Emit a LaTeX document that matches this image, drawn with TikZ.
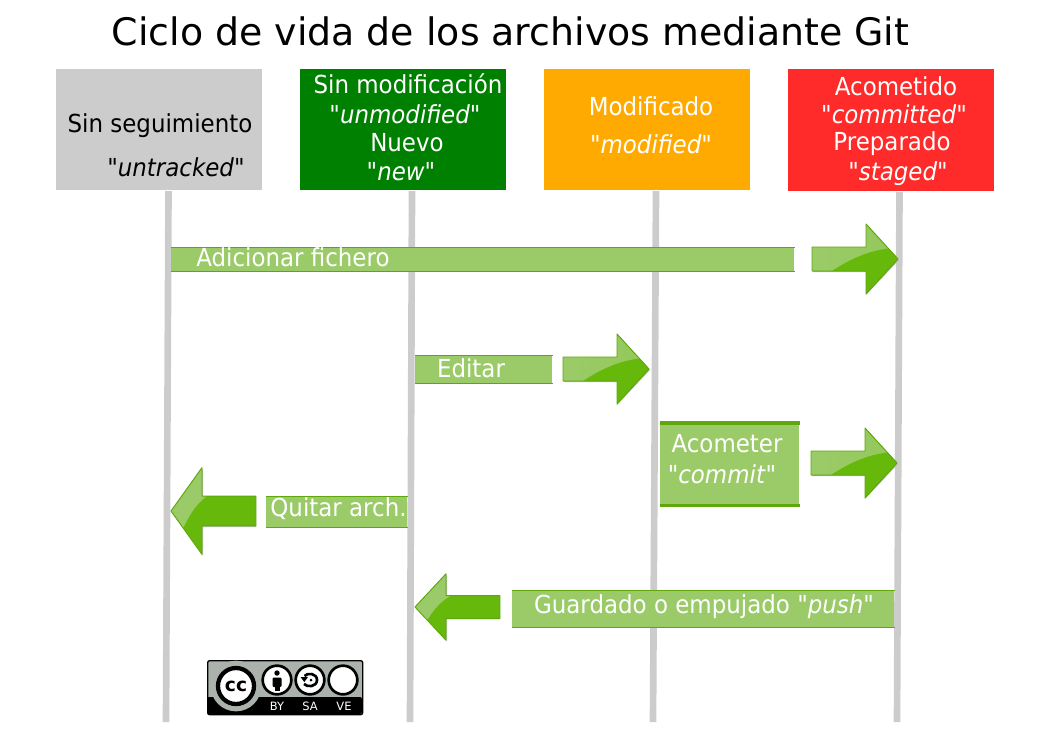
\documentclass[tikz,border=0pt]{standalone}
\usepackage{fontspec}
\setmainfont{DejaVu Sans}
\newfontfamily\lblfont[FakeStretch=0.925]{DejaVu Sans}
\usetikzlibrary{positioning,calc}
\definecolor{boxgray}{HTML}{CCCCCC}
\definecolor{boxgreen}{HTML}{008000}
\definecolor{boxorange}{HTML}{FFAA00}
\definecolor{boxred}{HTML}{FF2A2A}
\definecolor{barlite}{HTML}{9BCB68}
\definecolor{bardark}{HTML}{5FA80B}
\definecolor{arrdark}{HTML}{66B90A}
\definecolor{ccgray}{HTML}{AAB2AB}
\tikzset{
  x=0.75pt, y=-0.75pt,
  box/.style    = {anchor=north west, inner sep=0pt, minimum width=206*.75pt, minimum height=121*.75pt},
  lbl/.style    = {inner sep=0pt, font=\lblfont\fontsize{18.6}{20}\selectfont},
  lblw/.style   = {lbl, text=white},
  bar/.style    = {anchor=north west, inner sep=0pt, fill=barlite},
  baredge/.style= {draw=bardark, line width=0.6pt},
  life/.style   = {draw=boxgray, line width=5pt},
  ccdisc/.style = {circle, draw=black, fill=white, inner sep=0pt, line width=2pt, minimum size=21.5pt},
  cctxt/.style  = {inner sep=0pt, text=white, font=\fontsize{8.6}{9}\selectfont},
  rgtarrow/.pic = {
    \fill[black!25] (-85,-11) -- (-32,-11) -- (-32,-34) -- (1,1) -- (-32,36) -- (-32,13) -- (-85,13) -- cycle;
    \begin{scope}
      \clip (-86,-12) -- (-32,-12) -- (-32,-35) -- (0,0) -- (-32,35) -- (-32,12) -- (-86,12) -- cycle;
      \fill[left color=barlite, right color=barlite!85!arrdark] (-86,-35) rectangle (0,35);
      \fill[arrdark] (-66,12) .. controls (-48,0) and (-25,-11) .. (0,-11) -- (2,36) -- (-66,36) -- cycle;
    \end{scope}
    \draw[bardark, line width=0.7pt, line join=round] (-86,-12) -- (-32,-12) -- (-32,-35) -- (0,0) -- (-32,35) -- (-32,12) -- (-86,12) -- cycle;
  },
  lftarrow/.pic = {
    \fill[black!25] (85,-11) -- (32,-11) -- (32,-34) -- (1,1) -- (32,36) -- (32,13) -- (85,13) -- cycle;
    \begin{scope}
      \clip (85,-12) -- (31,-12) -- (31,-35) -- (0,0) -- (31,35) -- (31,12) -- (85,12) -- cycle;
      \fill[arrdark] (0,-35) rectangle (85,35);
      \fill[barlite] (-2,-36) rectangle (34,-12);
      \fill[barlite] (0,0) -- (31,-35) -- (31,-12) -- (36,-12) .. controls (22,-4) and (16,8) .. (12,14) -- cycle;
    \end{scope}
    \draw[bardark, line width=0.7pt, line join=round] (85,-12) -- (31,-12) -- (31,-35) -- (0,0) -- (31,35) -- (31,12) -- (85,12) -- cycle;
  },
}
\begin{document}
\begin{tikzpicture}
  \useasboundingbox (0,0) rectangle (1052,744);
  \node[inner sep=0pt, font=\fontsize{28.4}{30}\selectfont] (title) at (510.5,31) {Ciclo de vida de los archivos mediante Git};
  % state boxes
  \node[box, fill=boxgray]   (untr) at (56,69)  {};
  \node[box, fill=boxgreen]  (unmo) at (300,69) {};
  \node[box, fill=boxorange] (modi) at (544,69) {};
  \node[box, fill=boxred, minimum height=122*.75pt] (comm) at (788,69) {};
  \node[lbl]  (untr1) at (160,126) {Sin seguimiento};
  \node[lbl]  (untr2) at (176,167) {"\textit{untracked}"};
  \node[lblw] (unmo1) at (408,84)  {Sin modificación};
  \node[lblw] (unmo2) at (405,114) {"\textit{unmodified}"};
  \node[lblw] (unmo3) at (407,143) {Nuevo};
  \node[lblw] (unmo4) at (401,172) {"\textit{new}"};
  \node[lblw] (modi1) at (651,106) {Modificado};
  \node[lblw] (modi2) at (651,144) {"\textit{modified}"};
  \node[lblw] (comm1) at (896,86)  {Acometido};
  \node[lblw] (comm2) at (894,114) {"\textit{committed}"};
  \node[lblw] (comm3) at (892,144) {Preparado};
  \node[lblw] (comm4) at (898,174) {"\textit{staged}"};
  % life lines
  \coordinate (ta) at (168.5,191);  \coordinate (ba) at (166,722);
  \coordinate (tb) at (412,191);  \coordinate (bb) at (410,722);
  \coordinate (tc) at (656,191);  \coordinate (bc) at (653,722);
  \coordinate (td) at (899.5,192);  \coordinate (bd) at (897,722);
  \foreach \a/\b in {ta/ba,tb/bb,tc/bc,td/bd} \draw[life] (\a) -- (\b);
  % bars
  \node[bar, minimum width=623*.75pt, minimum height=24*.75pt] (bara) at (171,247) {};
  \node[bar, minimum width=137*.75pt, minimum height=28*.75pt] (barb) at (415,355) {};
  \node[bar, minimum width=139*.75pt, minimum height=82*.75pt] (barc) at (660,423) {};
  \node[bar, minimum width=141*.75pt, minimum height=31*.75pt] (bard) at (266,496) {};
  \node[bar, minimum width=382*.75pt, minimum height=37*.75pt] (bare) at (512,590) {};
  \foreach \b in {bara,barb,bard,bare} {
    \draw[baredge] (\b.north west) -- (\b.north east);
    \draw[baredge] (\b.south west) -- (\b.south east);
  }
  \draw[bardark, line width=2.4pt] (barc.north west) -- (barc.north east);
  \draw[bardark, line width=2.4pt] (barc.south west) -- (barc.south east);
  \node[lblw, anchor=west] (adic) at (196,257) {Adicionar fichero};
  \node[lblw] (edit) at (471,368) {Editar};
  \node[lblw] (acom1) at (727,444) {Acometer};
  \node[lblw] (acom2) at (722,474) {"\textit{commit}"};
  \node[lblw] (quit) at (338.5,509) {Quitar arch.};
  \node[lblw] (guar) at (704,606.5) {Guardado o empujado "\textit{push}"};
  % arrows
  \pic at (898,259) {rgtarrow};
  \pic at (649,369) {rgtarrow};
  \pic at (897,463) {rgtarrow};
  \pic[yscale=1.24] at (171,511) {lftarrow};
  \pic[yscale=0.95] at (415,607) {lftarrow};
  % licence badge
  \node[anchor=north west, draw=black, line width=1pt, fill=ccgray, rounded corners=1.5pt, inner sep=0pt,
        minimum width=155*.75pt, minimum height=54*.75pt] (badge) at (207,660) {};
  \fill[black, rounded corners=1.5pt] (207,697) rectangle (362,714);
  \node[circle, fill=ccgray, inner sep=0pt, minimum size=38pt] (ccring) at (236,686) {};
  \node[ccdisc, minimum size=27pt, line width=3.2pt, font=\bfseries\fontsize{14}{14}\selectfont] (ccbig) at (236,686) {cc};
  \node[ccdisc] (ccby) at (277,680) {};
  \node[ccdisc] (ccsa) at (310,680) {};
  \node[ccdisc] (ccve) at (343,680) {};
  \fill[black] (277,673) circle (2.7);
  \fill[black, rounded corners=0.8pt] (272.5,677.5) rectangle (281.5,687);
  \fill[black] (274.5,686) rectangle (279.5,691);
  \draw[black, line width=2pt] (304.5,676) .. controls (307,672.5) and (317,673) .. (317,680) .. controls (317,687) and (307,687.5) .. (304,684);
  \fill[black] (300.5,677) -- (308,677) -- (304.3,682) -- cycle;
  \fill[black] (311,680) circle (1.5);
  \node[cctxt] (lby) at (277,706) {BY};
  \node[cctxt] (lsa) at (310,706) {SA};
  \node[cctxt] (lve) at (344,706) {VE};
\end{tikzpicture}
\end{document}
